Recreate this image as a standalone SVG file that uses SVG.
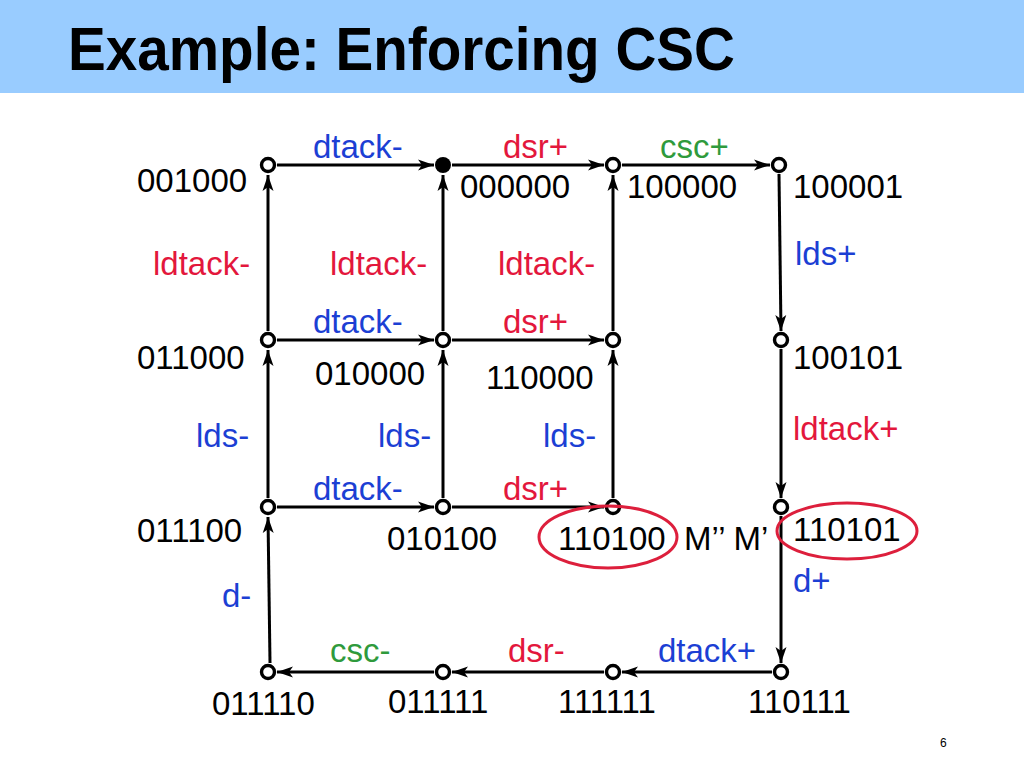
<svg xmlns="http://www.w3.org/2000/svg" width="1024" height="768" viewBox="0 0 1024 768">
<style>
.t{font-family:"Liberation Sans",Arial,sans-serif;font-size:33px;fill:#000}
.b{fill:#1c3fd4}.r{fill:#e3173c}.g{fill:#2f9a3c}
.e{stroke:#000;stroke-width:3;fill:none;marker-end:url(#ah)}
.n{fill:#fff;stroke:#000;stroke-width:3.4}
.m{fill:none;stroke:#dd1f3c;stroke-width:3}
</style>
<defs>
<marker id="ah" markerUnits="userSpaceOnUse" markerWidth="18" markerHeight="12" refX="16" refY="6" orient="auto">
<path d="M0,0.5 L16,6 L0,11.5 L4,6 z" fill="#000"/>
</marker>
</defs>
<rect x="0" y="0" width="1024" height="93" fill="#99ccff"/>
<text x="68" y="70" font-family="Liberation Sans,Arial,sans-serif" font-weight="bold" font-size="62" textLength="667" lengthAdjust="spacingAndGlyphs">Example: Enforcing CSC</text>
<g id="connectors">
<path class="e" d="M277,165 L434,165"/>
<path class="e" d="M452,165 L604,165"/>
<path class="e" d="M622,165 L770,165"/>
<path class="e" d="M268,331 L268,175"/>
<path class="e" d="M443,331 L443,175"/>
<path class="e" d="M613,331 L613,175"/>
<path class="e" d="M779,174 L781,331"/>
<path class="e" d="M277,340 L434,340"/>
<path class="e" d="M452,340 L604,340"/>
<path class="e" d="M268,498 L268,350"/>
<path class="e" d="M443,498 L443,350"/>
<path class="e" d="M613,498 L613,350"/>
<path class="e" d="M781,349 L781,498"/>
<path class="e" d="M277,507 L434,507"/>
<path class="e" d="M452,507 L604,507"/>
<path class="e" d="M270,663 L268,517"/>
<path class="e" d="M781,516 L781,663"/>
<path class="e" d="M772,672 L622,672"/>
<path class="e" d="M604,672 L452,672"/>
<path class="e" d="M434,672 L277,672"/>
</g>
<g id="n001000"><circle class="n" cx="268" cy="165" r="6.5"/><text class="t" x="137" y="192">001000</text></g>
<g id="n000000"><circle cx="443" cy="165" r="8" fill="#000"/><text class="t" x="460" y="198">000000</text></g>
<g id="n100000"><circle class="n" cx="613" cy="165" r="6.5"/><text class="t" x="627" y="198">100000</text></g>
<g id="n100001"><circle class="n" cx="779" cy="165" r="6.5"/><text class="t" x="793" y="198">100001</text></g>
<g id="n011000"><circle class="n" cx="268" cy="340" r="6.5"/><text class="t" x="137" y="369">011000</text></g>
<g id="n010000"><circle class="n" cx="443" cy="340" r="6.5"/><text class="t" x="315" y="385">010000</text></g>
<g id="n110000"><circle class="n" cx="613" cy="340" r="6.5"/><text class="t" x="486" y="389">110000</text></g>
<g id="n100101"><circle class="n" cx="781" cy="340" r="6.5"/><text class="t" x="793" y="369">100101</text></g>
<g id="n011100"><circle class="n" cx="268" cy="507" r="6.5"/><text class="t" x="137" y="542">011100</text></g>
<g id="n010100"><circle class="n" cx="443" cy="507" r="6.5"/><text class="t" x="387" y="550">010100</text></g>
<g id="n110100"><circle class="n" cx="613" cy="507" r="6.5"/><text class="t" x="558" y="550">110100</text><ellipse class="m" cx="608" cy="537" rx="69" ry="31"/></g>
<g id="n110101"><circle class="n" cx="781" cy="507" r="6.5"/><text class="t" x="793" y="541">110101</text><ellipse class="m" cx="847" cy="531" rx="70" ry="28"/></g>
<g id="n011110"><circle class="n" cx="268" cy="672" r="6.5"/><text class="t" x="212" y="715">011110</text></g>
<g id="n011111"><circle class="n" cx="443" cy="672" r="6.5"/><text class="t" x="388" y="713">011111</text></g>
<g id="n111111"><circle class="n" cx="613" cy="672" r="6.5"/><text class="t" x="558" y="713">111111</text></g>
<g id="n110111"><circle class="n" cx="781" cy="672" r="6.5"/><text class="t" x="748" y="713">110111</text></g>
<g id="labels">
<text class="t b" x="313" y="158">dtack-</text>
<text class="t r" x="503" y="158">dsr+</text>
<text class="t g" x="660" y="158">csc+</text>
<text class="t r" x="153" y="275">ldtack-</text>
<text class="t r" x="330" y="275">ldtack-</text>
<text class="t r" x="498" y="275">ldtack-</text>
<text class="t b" x="795" y="265">lds+</text>
<text class="t b" x="313" y="333">dtack-</text>
<text class="t r" x="503" y="333">dsr+</text>
<text class="t b" x="196" y="447">lds-</text>
<text class="t b" x="378" y="447">lds-</text>
<text class="t b" x="543" y="447">lds-</text>
<text class="t r" x="793" y="440">ldtack+</text>
<text class="t b" x="313" y="500">dtack-</text>
<text class="t r" x="503" y="500">dsr+</text>
<text class="t" x="684" y="550">M’’ M’</text>
<text class="t b" x="222" y="607">d-</text>
<text class="t b" x="793" y="592">d+</text>
<text class="t g" x="330" y="662">csc-</text>
<text class="t r" x="508" y="662">dsr-</text>
<text class="t b" x="658" y="662">dtack+</text>
<text x="940" y="747" font-family="Liberation Sans,Arial,sans-serif" font-size="12">6</text>
</g>
</svg>
